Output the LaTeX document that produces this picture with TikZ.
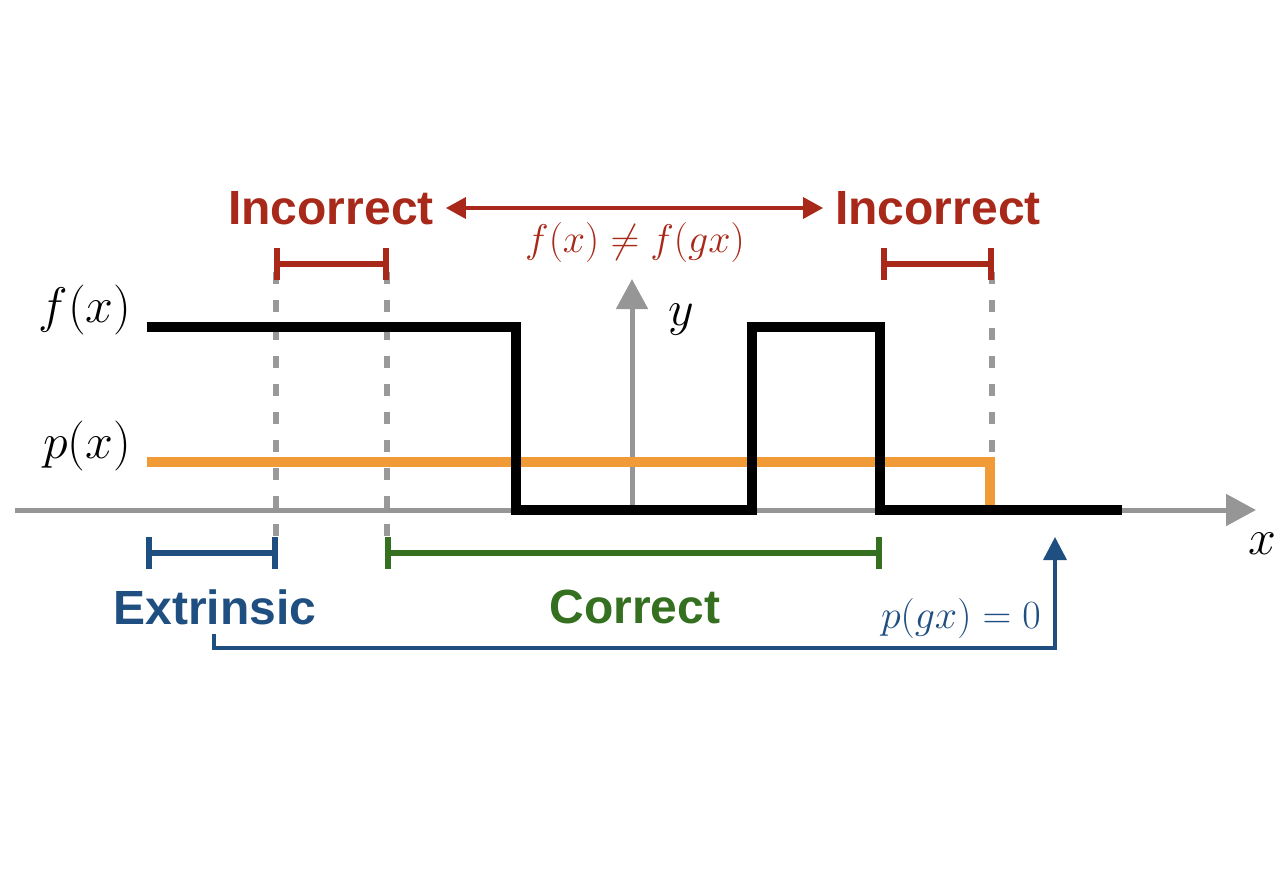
\RequirePackage{fix-cm}
\documentclass[tikz,border=0pt]{standalone}
\usepackage{fontspec}
\newfontfamily\labelfont{Liberation Sans}
\usetikzlibrary{arrows.meta}
\definecolor{axisgray}{HTML}{969696}
\definecolor{dashgray}{HTML}{999999}
\definecolor{porange}{HTML}{F09A38}
\definecolor{ired}{HTML}{A8291A}
\definecolor{eblue}{HTML}{1F4E80}
\definecolor{cgreen}{HTML}{347020}
\tikzset{
  axis/.style={draw=axisgray, line width=5pt, -{Triangle[length=30pt,width=31pt]}},
  guide/.style={draw=dashgray, line width=6pt, dash pattern=on 12pt off 16pt},
  fline/.style={draw=black, line width=10pt, line join=miter},
  pline/.style={draw=porange, line width=10pt, line join=miter},
  brkt/.style={line width=5.5pt, {Bar[width=32pt,line width=6pt]}-{Bar[width=32pt,line width=6pt]}},
  biglabel/.style={font=\labelfont\bfseries\fontsize{48}{52}\selectfont, inner sep=0pt},
  mathlabel/.style={font=\fontsize{50}{54}\selectfont, inner sep=0pt},
  smallmath/.style={font=\fontsize{40}{44}\selectfont, inner sep=0pt},
}
\begin{document}
\begin{tikzpicture}[x=1pt,y=-1pt]
\useasboundingbox (0,0) rectangle (1288,868);
% coordinates
\coordinate (xs) at (15,510);
\coordinate (xe) at (1256,510);
\coordinate (ys) at (632,510);
\coordinate (ye) at (632,279);
% axes
\draw[axis] (xs) -- (xe);
\draw[axis] (ys) -- (ye);
\node[mathlabel] (ylab) at (681,320) {$y$};
\node[mathlabel] (xlab) at (1262,544) {$x$};
% dashed guides
\coordinate (g1t) at (276,272); \coordinate (g1b) at (276,540);
\coordinate (g2t) at (387,272); \coordinate (g2b) at (387,540);
\coordinate (g3t) at (992,272); \coordinate (g3b) at (992,462);
\draw[guide] (g1t) -- (g1b);
\draw[guide] (g2t) -- (g2b);
\draw[guide] (g3t) -- (g3b);
% p(x)
\coordinate (p0) at (147,462);
\coordinate (p1) at (990,462);
\coordinate (p2) at (990,510);
\draw[pline] (p0) -- (p1) -- (p2);
% f(x)
\coordinate (f0) at (147,327);
\draw[fline] (f0) -- (516,327) -- (516,510) -- (752,510) -- (752,327) -- (880,327) -- (880,510) -- (1122,510);
% left labels
\node[mathlabel] (flab) at (85,310) {$f(x)$};
\node[mathlabel] (plab) at (87,446) {$p(x)$};
% incorrect brackets
\coordinate (r1a) at (274,264); \coordinate (r1b) at (389,264);
\coordinate (r2a) at (881,264); \coordinate (r2b) at (994,264);
\draw[brkt, draw=ired] (r1a) -- (r1b);
\draw[brkt, draw=ired] (r2a) -- (r2b);
\node[biglabel, text=ired] (inc1) at (331,208) {Incorrect};
\node[biglabel, text=ired] (inc2) at (938,208) {Incorrect};
\draw[draw=ired, line width=3.5pt, {Triangle[length=20pt,width=21pt]}-{Triangle[length=20pt,width=21pt]}]
  ([xshift=12pt]inc1.east) -- ([xshift=-12pt]inc2.west);
\node[smallmath, text=ired] (neq) at (635,242) {$f(x)\neq f(gx)$};
% extrinsic / correct brackets
\coordinate (b1a) at (146,553); \coordinate (b1b) at (278,553);
\coordinate (c1a) at (385,553); \coordinate (c1b) at (882,553);
\draw[brkt, draw=eblue] (b1a) -- (b1b);
\draw[brkt, draw=cgreen] (c1a) -- (c1b);
\node[biglabel, text=eblue] (ext) at (215,607) {Extrinsic};
\node[biglabel, text=cgreen] (cor) at (635,607) {Correct};
% p(gx)=0 connector
\coordinate (cs) at (214,634);
\coordinate (ce) at (1055,537);
\draw[draw=eblue, line width=3.5pt, line join=miter, -{Triangle[length=23pt,width=23pt]}]
  (cs) -- (214,648) -- (1055,648) -- (ce);
\node[smallmath, text=eblue, anchor=east] (pg) at (1041,618) {$p(gx)=0$};
\end{tikzpicture}
\end{document}
